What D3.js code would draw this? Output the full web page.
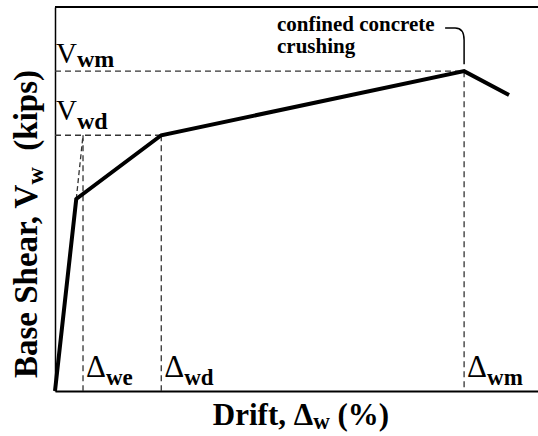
<!DOCTYPE html>
<html>
<head>
<meta charset="utf-8">
<script src="https://cdn.jsdelivr.net/npm/d3@7"></script>
<style>
	body { margin: 0; background: #fff; }
</style>
</head>
<body>
<svg id="pushover-svg"></svg>
<script>
'use strict';

// backbone curve: drift (%) and base shear (arbitrary units)
var curveDrift = [0, 0.44, 2.2, 8.47, 9.4];
var curveShear = [0, 50, 66.6, 83.3, 77.1];

// characteristic points
var pointNames = ['we', 'wd', 'wm'];
var pointDrift = [0.58, 2.2, 8.47];
var pointShear = [66.6, 66.6, 83.3];
var shearLevelNames = ['wm', 'wd'];
var shearLevels = [83.3, 66.6];

var annotationLines = ['confined concrete', 'crushing'];

var WIDTH = 538,
	HEIGHT = 436;

var margin = { top: 7, right: 0, bottom: 45, left: 55 };

var FONT = '"Liberation Serif", "Times New Roman", serif';

var svg = d3.select('#pushover-svg')
	.attr('width', WIDTH)
	.attr('height', HEIGHT);

var x = d3.scaleLinear()
	.domain([0, 10])
	.range([margin.left, WIDTH - margin.right]);

var y = d3.scaleLinear()
	.domain([0, 100])
	.range([HEIGHT - margin.bottom, margin.top]);

var dashColor = '#333';

// frame: axes without ticks plus a top border
svg.append('g')
	.attr('transform', 'translate(0,' + y(0) + ')')
	.call(d3.axisBottom(x).tickValues([]).tickSizeOuter(0))
	.select('.domain')
	.style('stroke-width', 2);

svg.append('g')
	.attr('transform', 'translate(' + x(0) + ',0)')
	.call(d3.axisLeft(y).tickValues([]).tickSizeOuter(0))
	.select('.domain')
	.style('stroke-width', 1.5);

svg.append('line')
	.attr('x1', x(0))
	.attr('x2', x(10))
	.attr('y1', y(100))
	.attr('y2', y(100))
	.style('stroke', '#000')
	.style('stroke-width', 2);

// dashed guide lines
svg.selectAll('.h-guide')
	.data(pointDrift.slice(1))
	.enter()
	.append('line')
	.classed('h-guide', 1)
	.attr('x1', x(0))
	.attr('x2', function (d) { return x(d); })
	.attr('y1', function (d, i) { return y(pointShear[i + 1]); })
	.attr('y2', function (d, i) { return y(pointShear[i + 1]); })
	.style('stroke', dashColor)
	.style('stroke-width', 1.3)
	.style('stroke-dasharray', '6,4');

svg.selectAll('.v-guide')
	.data(pointDrift)
	.enter()
	.append('line')
	.classed('v-guide', 1)
	.attr('x1', function (d) { return x(d); })
	.attr('x2', function (d) { return x(d); })
	.attr('y1', function (d, i) { return y(pointShear[i]); })
	.attr('y2', y(0))
	.style('stroke', dashColor)
	.style('stroke-width', 1.3)
	.style('stroke-dasharray', '6,4');

// secant extension of the elastic branch up to V_wd
svg.append('line')
	.attr('x1', x(curveDrift[1]))
	.attr('y1', y(curveShear[1]))
	.attr('x2', x(pointDrift[0]))
	.attr('y2', y(pointShear[0]))
	.style('stroke', dashColor)
	.style('stroke-width', 1.3)
	.style('stroke-dasharray', '5,3');

// backbone curve
var line = d3.line()
	.x(function (d) { return x(d[0]); })
	.y(function (d) { return y(d[1]); });

svg.append('path')
	.datum(d3.zip(curveDrift, curveShear))
	.attr('d', line)
	.style('fill', 'none')
	.style('stroke', '#000')
	.style('stroke-width', 4)
	.style('stroke-linejoin', 'miter');

// V labels on the left
var vLabels = svg.selectAll('.v-label')
	.data(shearLevelNames)
	.enter()
	.append('text')
	.classed('v-label', 1)
	.attr('font-family', FONT)
	.attr('x', x(0) + 1)
	.attr('y', function (d, i) { return y(shearLevels[i]) - (i === 0 ? 8 : 15); });

vLabels.append('tspan')
	.style('font-size', '29px')
	.text('V');

vLabels.append('tspan')
	.attr('dy', function (d, i) { return i === 0 ? 4 : 9; })
	.style('font-size', '24px')
	.style('font-weight', 'bold')
	.text(function (d) { return d; });

// delta labels along the bottom
var dLabels = svg.selectAll('.d-label')
	.data(pointNames)
	.enter()
	.append('text')
	.classed('d-label', 1)
	.attr('font-family', FONT)
	.attr('x', function (d, i) { return x(pointDrift[i]) + 3; })
	.attr('y', y(0) - 14);

dLabels.append('tspan')
	.style('font-size', '31px')
	.text('\u0394');

dLabels.append('tspan')
	.attr('dy', 8)
	.style('font-size', '23px')
	.style('font-weight', 'bold')
	.text(function (d) { return d; });

// annotation for peak
svg.selectAll('.note')
	.data(annotationLines)
	.enter()
	.append('text')
	.classed('note', 1)
	.attr('font-family', FONT)
	.attr('x', 277)
	.attr('y', function (d, i) { return 31 + i * 22; })
	.style('font-size', '21px')
	.style('font-weight', 'bold')
	.text(function (d) { return d; });

var peakX = x(pointDrift[2]);
svg.append('path')
	.attr('d', 'M' + (peakX - 19) + ',28 L' + (peakX - 9) + ',28 Q' + peakX + ',28 ' + peakX + ',40 L' + peakX + ',' + (y(pointShear[2]) - 7))
	.style('fill', 'none')
	.style('stroke', '#000')
	.style('stroke-width', 1.5);

// axis titles
var xTitle = svg.append('text')
	.attr('font-family', FONT)
	.attr('x', 301)
	.attr('y', 425)
	.style('text-anchor', 'middle')
	.style('font-size', '31px')
	.style('font-weight', 'bold');
xTitle.append('tspan').text('Drift, \u0394');
xTitle.append('tspan').attr('dy', 4).style('font-size', '23px').text('w');
xTitle.append('tspan').attr('dy', -4).text(' (%)');

var yTitle = svg.append('text')
	.attr('font-family', FONT)
	.attr('transform', 'translate(37,224) rotate(-90)')
	.style('text-anchor', 'middle')
	.style('font-size', '33px')
	.style('font-weight', 'bold');
yTitle.append('tspan').text('Base Shear, V');
yTitle.append('tspan').attr('dy', 6).style('font-size', '24px').text('w');
yTitle.append('tspan').attr('dy', -6).text('\u00a0 (kips)');
</script>
</body>
</html>
